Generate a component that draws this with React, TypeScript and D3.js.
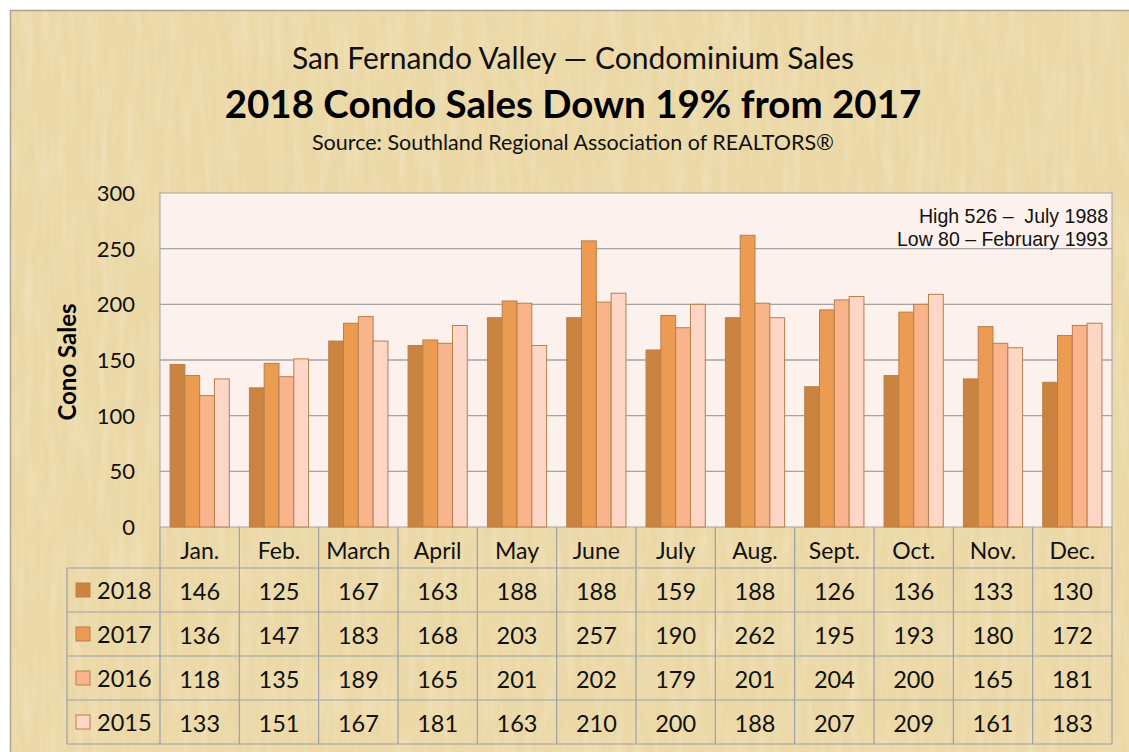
import React from "react";
import * as d3 from "d3";

const months = ["Jan.", "Feb.", "March", "April", "May", "June", "July", "Aug.", "Sept.", "Oct.", "Nov.", "Dec."];
const seriesNames = ["2018", "2017", "2016", "2015"];
const sales2018 = [146, 125, 167, 163, 188, 188, 159, 188, 126, 136, 133, 130];
const sales2017 = [136, 147, 183, 168, 203, 257, 190, 262, 195, 193, 180, 172];
const sales2016 = [118, 135, 189, 165, 201, 202, 179, 201, 204, 200, 165, 181];
const sales2015 = [133, 151, 167, 181, 163, 210, 200, 188, 207, 209, 161, 183];
const yTicks = [0, 50, 100, 150, 200, 250, 300];
const seriesColors = ["#CB8440", "#EC9C52", "#F9B48B", "#FDD6C6"];

const allSeries = [sales2018, sales2017, sales2016, sales2015];

export default function App() {
  const W = 1129, H = 752;
  const left = 160, right = 1112, top = 193, bottom = 527;
  const x = d3.scaleBand<string>().domain(months).range([left, right]).paddingInner(0).paddingOuter(0);
  const inner = d3.scaleBand<string>().domain(seriesNames).range([0, x.bandwidth()]).paddingInner(0).paddingOuter(0.68);
  const y = d3.scaleLinear().domain([0, 300]).range([bottom, top]);
  const rowH = 44;
  const headerBottom = 568;
  const tableLeft = 67;
  const font = "Lato, 'Open Sans', sans-serif";
  const gridColor = "#A4A4A4";
  const tableColor = "#9AA0AC";

  return (
    <svg width={W} height={H} style={{ position: "absolute", left: 0, top: 0 }} fontFamily={font}>
      <defs>
        <filter id="fibers" x="0" y="0" width="100%" height="100%">
          <feTurbulence type="fractalNoise" baseFrequency="0.015 0.12" numOctaves="3" seed="4" result="n1" />
          <feColorMatrix in="n1" type="matrix"
            values="0 0 0 0 0.80  0 0 0 0 0.68  0 0 0 0 0.40  0 0 0 1.1 -0.45" result="c1" />
          <feTurbulence type="fractalNoise" baseFrequency="0.12 0.015" numOctaves="3" seed="9" result="n2" />
          <feColorMatrix in="n2" type="matrix"
            values="0 0 0 0 0.97  0 0 0 0 0.90  0 0 0 0 0.74  0 0 0 1.1 -0.45" result="c2" />
          <feMerge>
            <feMergeNode in="c1" />
            <feMergeNode in="c2" />
          </feMerge>
        </filter>
      </defs>
      <rect x={0} y={0} width={W} height={H} fill="#ffffff" />
      <rect x={10.5} y={10.5} width={W} height={H} fill="#EBD8A6" stroke="#A8A29A" strokeWidth={1.5} />
      <rect x={11} y={11} width={W - 11} height={H - 11} fill="#EBD8A6" filter="url(#fibers)" opacity={0.55} />

      <text x={573} y={69} textAnchor="middle" fontSize={30} fill="#111">San Fernando Valley — Condominium Sales</text>
      <text x={573} y={118} textAnchor="middle" fontSize={38.5} fontWeight="bold" fill="#000">2018 Condo Sales Down 19% from 2017</text>
      <text x={573} y={150} textAnchor="middle" fontSize={21.5} fill="#111">Source: Southland Regional Association of REALTORS®</text>

      <rect x={left} y={top} width={right - left} height={bottom - top} fill="#FCF1EC" stroke={gridColor} strokeWidth={1} />
      {yTicks.map((t) => (
        <g key={t}>
          {t > 0 && t < 300 && <line x1={left} x2={right} y1={y(t)} y2={y(t)} stroke={gridColor} strokeWidth={1.3} />}
          <text x={135} y={y(t) + 8} textAnchor="end" fontSize={22} fill="#111">{t}</text>
        </g>
      ))}
      <text transform={`translate(76,${(top + bottom) / 2 + 2}) rotate(-90)`} textAnchor="middle" fontSize={24} fontWeight="bold" fill="#000">Cono Sales</text>

      <text x={1108} y={223} textAnchor="end" fontSize={21} textLength={189} lengthAdjust="spacingAndGlyphs" fontFamily="'Liberation Sans', Arial, sans-serif" fill="#111" style={{ whiteSpace: "pre" }}>High 526 –  July 1988</text>
      <text x={1108} y={246} textAnchor="end" fontSize={21} textLength={211} lengthAdjust="spacingAndGlyphs" fontFamily="'Liberation Sans', Arial, sans-serif" fill="#111">Low 80 – February 1993</text>

      {months.map((m, i) => (
        <g key={m}>
          {allSeries.map((s, j) => {
            const bx = (x(m) as number) + (inner(seriesNames[j]) as number);
            return (
              <rect key={j} x={bx} y={y(s[i])} width={inner.bandwidth()} height={bottom - y(s[i])}
                fill={seriesColors[j]} stroke="#B97F4A" strokeWidth={1} />
            );
          })}
        </g>
      ))}

      {/* data table */}
      <g stroke={tableColor} strokeWidth={1.2} fill="none">
        {months.map((m, i) => (
          <line key={"v" + i} x1={x(m) as number} x2={x(m) as number} y1={bottom} y2={headerBottom + rowH * 4} />
        ))}
        <line x1={right} x2={right} y1={bottom} y2={headerBottom + rowH * 4} />
        <line x1={tableLeft} x2={tableLeft} y1={headerBottom} y2={headerBottom + rowH * 4} />
        {[0, 1, 2, 3, 4].map((r) => (
          <line key={"h" + r} x1={tableLeft} x2={right} y1={headerBottom + r * rowH} y2={headerBottom + r * rowH} />
        ))}
      </g>
      {months.map((m) => (
        <text key={m} x={(x(m) as number) + x.bandwidth() / 2} y={559} textAnchor="middle" fontSize={23} fill="#111">{m}</text>
      ))}
      {seriesNames.map((name, j) => (
        <g key={name}>
          <rect x={76} y={headerBottom + j * rowH + 15} width={14} height={14} fill={seriesColors[j]} stroke="#B97F4A" strokeWidth={1} />
          <text x={97} y={headerBottom + j * rowH + 31} fontSize={23.5} fill="#111">{name}</text>
          {allSeries[j].map((v, i) => (
            <text key={i} x={(x(months[i]) as number) + x.bandwidth() / 2} y={headerBottom + j * rowH + 32} textAnchor="middle" fontSize={23.5} fill="#111">{v}</text>
          ))}
        </g>
      ))}
    </svg>
  );
}
